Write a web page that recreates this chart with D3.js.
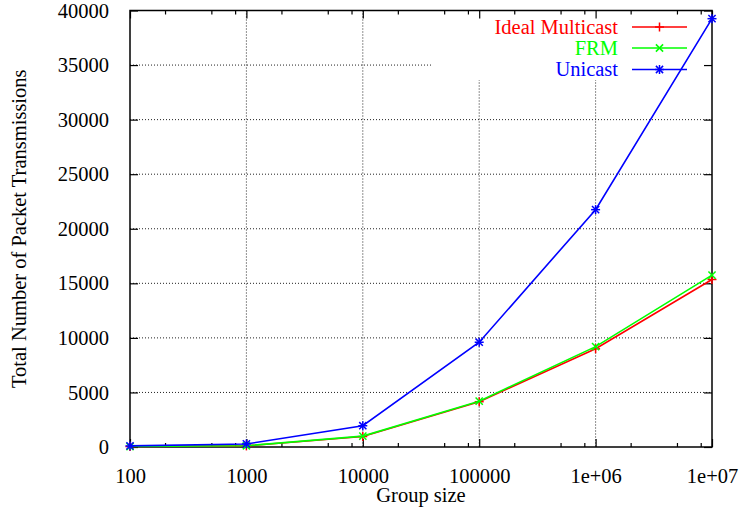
<!DOCTYPE html>
<html>
<head>
<meta charset="utf-8">
<script src="https://cdn.jsdelivr.net/npm/d3@7"></script>
<style>
  html, body { margin: 0; padding: 0; background: #fff; }
  svg text { font-family: "Liberation Serif", "DejaVu Serif", serif; }
</style>
</head>
<body>
<svg id="chart" width="743" height="517"></svg>
<script>
// Group sizes (log scale) and total packet transmissions per scheme
const groupSizes = [100, 1000, 10000, 100000, 1000000, 10000000];
const idealMulticast = [40, 100, 960, 4150, 9000, 15350];
const frm = [45, 110, 1000, 4200, 9200, 15750];
const unicast = [99, 280, 1950, 9600, 21750, 39250];

const seriesNames = ["Ideal Multicast", "FRM", "Unicast"];
const seriesColors = ["#ff0000", "#00ff00", "#0000ff"];
const seriesMarkers = ["plus", "cross", "star"];

const xTickValues = [100, 1000, 10000, 100000, 1000000, 10000000];
const xTickLabels = ["100", "1000", "10000", "100000", "1e+06", "1e+07"];
const yTickValues = [0, 5000, 10000, 15000, 20000, 25000, 30000, 35000, 40000];

const FS = 20.5;
const margin = { left: 130, right: 31, top: 10.5, bottom: 70 };
const W = 743, H = 517;
const plotW = W - margin.left - margin.right;
const plotH = H - margin.top - margin.bottom;

const svg = d3.select("#chart");
const g = svg.append("g").attr("transform", `translate(${margin.left},${margin.top})`);

const x = d3.scaleLog().domain([100, 1e7]).range([0, plotW]);
const y = d3.scaleLinear().domain([0, 40000]).range([plotH, 0]);

// minor ticks at 2, 5, 8 within each decade
const minorX = [];
for (let d = 100; d < 1e7; d *= 10) [2, 5, 8].forEach(m => minorX.push(d * m));

// grid
const grid = g.append("g").attr("stroke", "#222").attr("stroke-width", 1)
  .attr("stroke-dasharray", "1,2").attr("fill", "none");
xTickValues.slice(1, -1).forEach(v => {
  grid.append("line").attr("x1", x(v)).attr("x2", x(v)).attr("y1", 0).attr("y2", plotH);
});
yTickValues.slice(1, -1).forEach(v => {
  grid.append("line").attr("x1", 0).attr("x2", plotW).attr("y1", y(v)).attr("y2", y(v));
});

// key background clears the grid behind the legend
g.append("rect").attr("x", 302).attr("y", 0).attr("width", plotW - 302).attr("height", 69.5)
  .attr("fill", "#fff");

// axes via d3 axis generators
const tickStyle = sel => {
  sel.select(".domain").remove();
  sel.selectAll("line").attr("stroke", "#000").attr("stroke-width", 1.2);
  sel.selectAll("text").attr("font-size", FS).attr("fill", "#000")
    .attr("font-family", "Liberation Serif, serif");
};

g.append("g").attr("transform", `translate(0,${plotH})`)
  .call(d3.axisBottom(x).tickValues(xTickValues).tickSize(-8).tickPadding(21)
    .tickFormat((d, i) => xTickLabels[i]))
  .call(tickStyle);
g.append("g").attr("transform", `translate(0,${plotH})`)
  .call(d3.axisBottom(x).tickValues(minorX).tickSize(-4).tickFormat(""))
  .call(tickStyle);
g.append("g")
  .call(d3.axisTop(x).tickValues(xTickValues).tickSize(-8).tickFormat(""))
  .call(tickStyle);
g.append("g")
  .call(d3.axisTop(x).tickValues(minorX).tickSize(-4).tickFormat(""))
  .call(tickStyle);
g.append("g")
  .call(d3.axisLeft(y).tickValues(yTickValues).tickSize(-8).tickPadding(21)
    .tickFormat(d3.format("d")))
  .call(tickStyle);
g.append("g").attr("transform", `translate(${plotW},0)`)
  .call(d3.axisRight(y).tickValues(yTickValues).tickSize(-8).tickFormat(""))
  .call(tickStyle);

// border
g.append("rect").attr("x", 0).attr("y", 0).attr("width", plotW).attr("height", plotH)
  .attr("fill", "none").attr("stroke", "#000").attr("stroke-width", 1.5);

// axis titles
svg.append("text").attr("x", margin.left + plotW / 2).attr("y", 502)
  .attr("text-anchor", "middle").attr("font-size", FS).text("Group size");
svg.append("text")
  .attr("transform", `translate(26,${margin.top + plotH / 2}) rotate(-90)`)
  .attr("text-anchor", "middle").attr("font-size", FS)
  .text("Total Number of Packet Transmissions");

// marker shapes
function marker(sel, type, cx, cy, color, r) {
  const gm = sel.append("g").attr("stroke", color).attr("stroke-width", 1.5);
  if (type === "plus" || type === "star") {
    gm.append("line").attr("x1", cx - r).attr("x2", cx + r).attr("y1", cy).attr("y2", cy);
    gm.append("line").attr("x1", cx).attr("x2", cx).attr("y1", cy - r).attr("y2", cy + r);
  }
  if (type === "cross" || type === "star") {
    const k = r * 0.8;
    gm.append("line").attr("x1", cx - k).attr("x2", cx + k).attr("y1", cy - k).attr("y2", cy + k);
    gm.append("line").attr("x1", cx - k).attr("x2", cx + k).attr("y1", cy + k).attr("y2", cy - k);
  }
}

const allSeries = [idealMulticast, frm, unicast];
const line = d3.line().x(d => x(d[0])).y(d => y(d[1]));

allSeries.forEach((vals, i) => {
  const pts = groupSizes.map((gs, j) => [gs, vals[j]]);
  g.append("path").datum(pts).attr("d", line).attr("fill", "none")
    .attr("stroke", seriesColors[i]).attr("stroke-width", 1.6);
  pts.forEach(p => marker(g, seriesMarkers[i], x(p[0]), y(p[1]), seriesColors[i], 4.5));
});

// legend
const legendRows = [27, 48, 69.5];
seriesNames.forEach((name, i) => {
  const ly = legendRows[i];
  svg.append("text").attr("x", 618).attr("y", ly + 6.5).attr("text-anchor", "end")
    .attr("font-size", FS).attr("fill", seriesColors[i]).text(name);
  svg.append("line").attr("x1", 632).attr("x2", 687).attr("y1", ly).attr("y2", ly)
    .attr("stroke", seriesColors[i]).attr("stroke-width", 1.6);
  marker(svg, seriesMarkers[i], 659.5, ly, seriesColors[i], 4.5);
});
</script>
</body>
</html>
